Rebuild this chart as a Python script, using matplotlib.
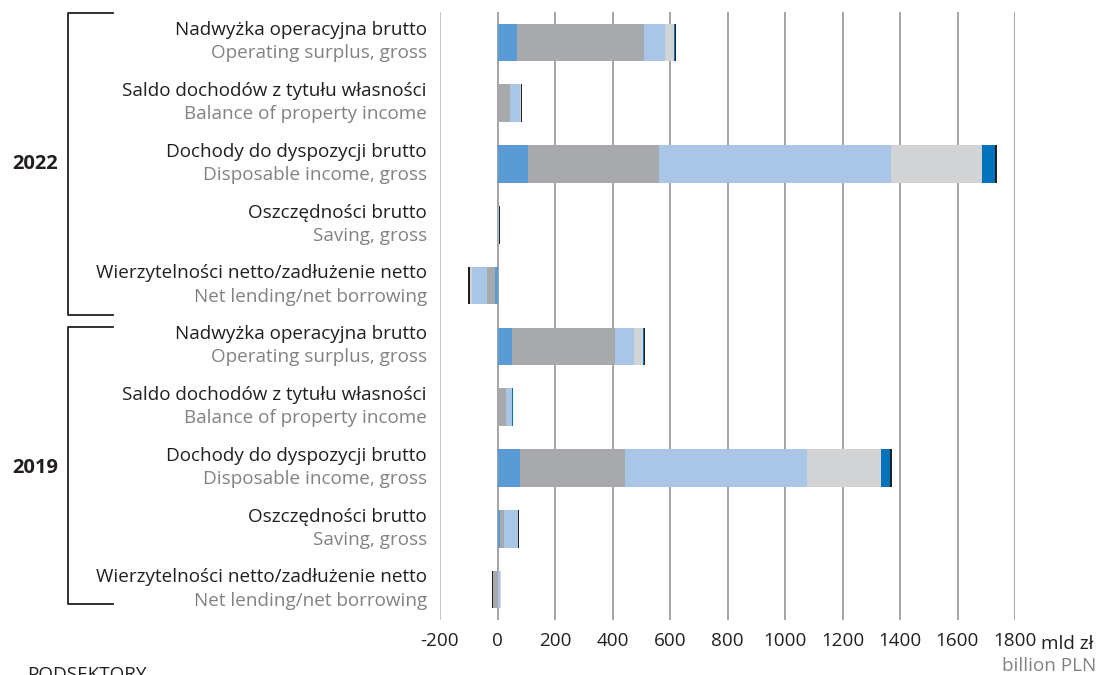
import numpy as np
import matplotlib
matplotlib.use('Agg')
import matplotlib.pyplot as plt

plt.rcParams['font.family'] = ['Open Sans', 'DejaVu Sans']

# rows from top to bottom (2022 block, then 2019 block)
labels_pl = ['Nadwyżka operacyjna brutto', 'Saldo dochodów z tytułu własności',
             'Dochody do dyspozycji brutto', 'Oszczędności brutto',
             'Wierzytelności netto/zadłużenie netto'] * 2
labels_en = ['Operating surplus, gross', 'Balance of property income',
             'Disposable income, gross', 'Saving, gross',
             'Net lending/net borrowing'] * 2
years = ['2022', '2019']

# subsector values (mld zł), one list per subsector, same row order as labels
sub1 = [67, 0, 105, 0, -7, 50, 0, 78, 8, 0]
sub2 = [442, 44, 455, 1, -30, 358, 30, 364, 13, -16]
sub3 = [73, 35, 810, 4, -53, 67, 19, 633, 49, 10]
sub4 = [31, 3, 316, 0, -6, 31, 1, 259, 0, 1]
sub5 = [6, 0, 45, 0, 0, 5, 3, 31, 3, 0]
sub6 = [3, 3, 8, 2, -5, 3, 2, 6, 2, -3]

xticks = [-200, 0, 200, 400, 600, 800, 1000, 1200, 1400, 1600, 1800]

colors = ['#5b9bd5', '#a7a9ac', '#a9c6e6', '#d1d3d4', '#0072bc', '#231f20']
series = [sub1, sub2, sub3, sub4, sub5, sub6]

fs = 13.6

fig = plt.figure(figsize=(11.06, 6.75), dpi=100)
ax = fig.add_axes([440 / 1106, 55 / 675, 575 / 1106, 608 / 675])

n = len(labels_pl)
y = np.arange(n)
pos = np.zeros(n)
neg = np.zeros(n)
for vals, c in zip(series, colors):
    v = np.array(vals, dtype=float)
    left = np.where(v >= 0, pos, neg)
    ax.barh(y, v, left=left, height=0.62, color=c, linewidth=0, zorder=3)
    pos += np.where(v >= 0, v, 0)
    neg += np.where(v < 0, v, 0)

ax.set_xlim(-200, 1800)
ax.set_ylim(n - 0.5, -0.5)
ax.set_xticks(xticks)
ax.set_xticklabels([str(t) for t in xticks])
ax.set_yticks([])
for s in ax.spines.values():
    s.set_visible(False)
ax.tick_params(axis='x', length=0, pad=9, labelsize=fs, labelcolor='#231f20')
for t in xticks:
    ax.axvline(t, color='#8a8a8a' if t > -200 else '#b8b8b8', lw=1.1, zorder=1)

# row labels
for i in range(n):
    ax.text(-0.023, i - 0.2, labels_pl[i], transform=ax.get_yaxis_transform(),
            ha='right', va='center', fontsize=fs, color='#231f20')
    ax.text(-0.023, i + 0.18, labels_en[i], transform=ax.get_yaxis_transform(),
            ha='right', va='center', fontsize=fs, color='#808285')

# year brackets
for k, yr in enumerate(years):
    top = k * 5 - 0.5 + (0.02 if k == 0 else 0.18)
    bot = k * 5 + 4.5 - (0.02 if k == 0 else 0.26)
    xl, xr = 68 / 1106, 113 / 1106
    tr = fig.transFigure
    ytop = ax.transData.transform((0, top))[1] / 675
    ybot = ax.transData.transform((0, bot))[1] / 675
    fig.add_artist(plt.Line2D([xr, xl, xl, xr], [ytop, ytop, ybot, ybot],
                              transform=tr, color='#231f20', lw=1.3))
    ymid = ax.transData.transform((0, k * 5 + 2))[1] / 675
    fig.text(35 / 1106, ymid, yr, ha='center', va='center', fontsize=14.5,
             fontweight='bold', color='#231f20')

# unit labels
ax.annotate('mld zł', xy=(1800, 0), xycoords=('data', 'axes fraction'),
            xytext=(19, -17.5), textcoords='offset points', ha='left', va='center',
            fontsize=fs, color='#231f20', annotation_clip=False)
fig.text(1096 / 1106, 1 - 666 / 675, 'billion PLN', ha='right', va='center',
         fontsize=fs, color='#808285')
fig.text(27 / 1106, 1 - 666 / 675, 'PODSEKTORY', ha='left', va='top',
         fontsize=fs, color='#231f20')

fig.savefig('out.png', dpi=100)
